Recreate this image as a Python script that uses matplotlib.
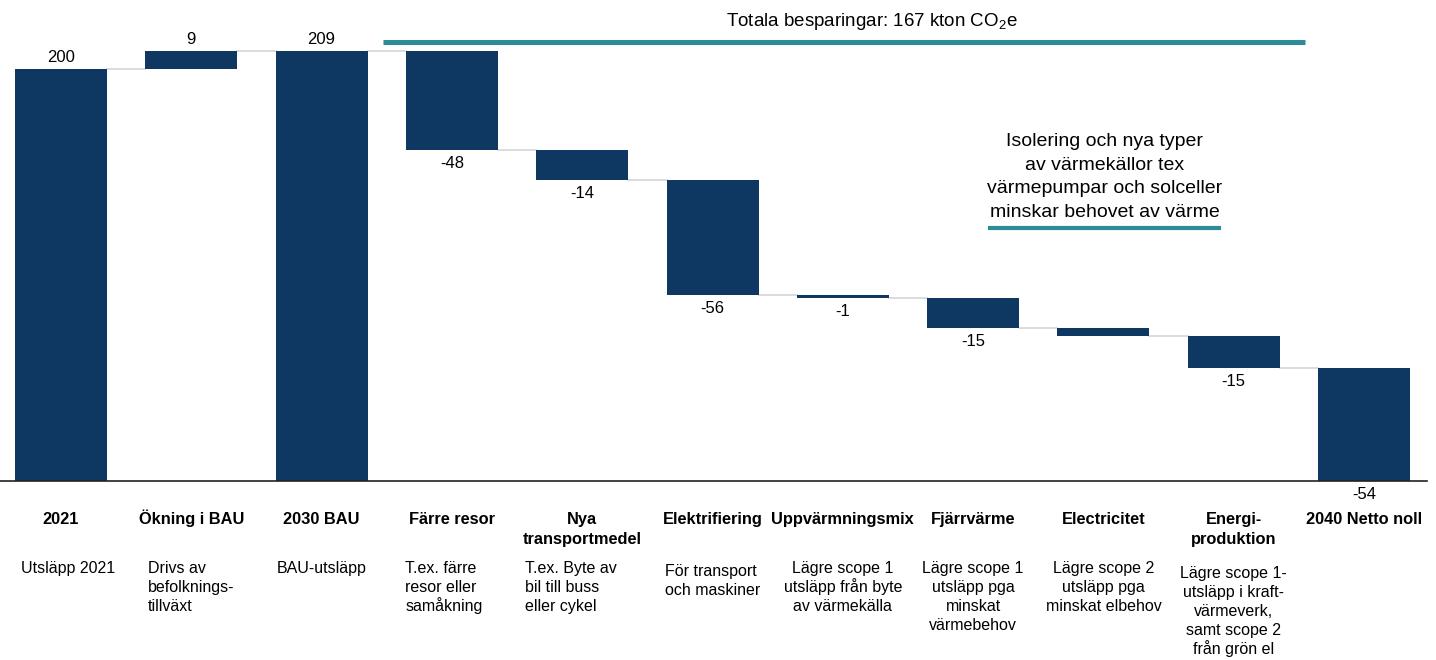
import matplotlib
matplotlib.use('Agg')
import matplotlib.pyplot as plt
import numpy as np

plt.rcParams['font.family'] = ['Liberation Sans', 'DejaVu Sans']
plt.rcParams['mathtext.fontset'] = 'custom'
plt.rcParams['mathtext.rm'] = 'Liberation Sans'

# data
categories = ['2021', 'Ökning i BAU', '2030 BAU', 'Färre resor', 'Nya\ntransportmedel',
              'Elektrifiering', 'Uppvärmningsmix', 'Fjärrvärme', 'Electricitet',
              'Energi-\nproduktion', '2040 Netto noll']
kinds = ['total', 'delta', 'total', 'delta', 'delta', 'delta', 'delta', 'delta',
         'delta', 'delta', 'total']
start_value = 200
deltas = [9, -48, -14.5, -56, -1.5, -14.5, -4, -15.5]
value_labels = ['200', '9', '209', '-48', '-14', '-56', '-1', '-15', '', '-15', '-54']
descriptions = [
    'Utsläpp 2021',
    'Drivs av\nbefolknings-\ntillväxt',
    'BAU-utsläpp',
    'T.ex. färre\nresor eller\nsamåkning',
    'T.ex. Byte av\nbil till buss\neller cykel',
    'För transport\noch maskiner',
    'Lägre scope 1\nutsläpp från byte\nav värmekälla',
    'Lägre scope 1\nutsläpp pga\nminskat\nvärmebehov',
    'Lägre scope 2\nutsläpp pga\nminskat elbehov',
    'Lägre scope 1-\nutsläpp i kraft-\nvärmeverk,\nsamt scope 2\nfrån grön el',
    '',
]
title_text = 'Totala besparingar: 167 kton CO$_\\mathregular{2}$e'
note_text = 'Isolering och nya typer\nav värmekällor tex\nvärmepumpar och solceller\nminskar behovet av värme'

NAVY = '#0e3761'
TEAL = '#2c8c99'
GREY = '#d9d9d9'

# layout in pixels
W, H = 1436, 660
X0, DX = 61, 130.3          # first bar centre and step in px
BASE, PPU = 481, 2.058      # baseline px and px per unit

fig = plt.figure(figsize=(W / 100, H / 100), dpi=100)
ax = fig.add_axes([0, 0, 1, 1])
ax.set_xlim(-X0 / DX, (W - X0) / DX)
ax.set_ylim(-(H - BASE) / PPU, BASE / PPU)
ax.axis('off')

def px_x(p):
    return (p - X0) / DX

def px_y(p):
    return (BASE - p) / PPU

width = 92 / DX

# build bars
bottoms, heights, levels = [], [], []
level = 0
di = 0
for k in kinds:
    if k == 'total':
        if not bottoms:
            level = start_value
        bottoms.append(0)
        heights.append(level)
    else:
        d = deltas[di]
        di += 1
        bottoms.append(min(level, level + d))
        heights.append(abs(d))
        level += d
    levels.append(level)

x = np.arange(len(categories))
ax.bar(x, heights, bottom=bottoms, width=width, color=NAVY, zorder=3)

# connectors
for i in range(len(x) - 1):
    ax.plot([x[i] + width / 2, x[i + 1] - width / 2], [levels[i], levels[i]],
            color=GREY, lw=1.3, zorder=2)

# baseline
ax.plot([px_x(0), px_x(1427)], [0, 0], color='#222222', lw=1.2, zorder=4)

# value labels
pu = 1 / PPU
for i, lab in enumerate(value_labels):
    if not lab:
        continue
    if lab.startswith('-'):
        ax.text(x[i], bottoms[i] - 6 * pu, lab, ha='center', va='top', fontsize=12)
    else:
        ax.text(x[i], bottoms[i] + heights[i] + 4 * pu, lab, ha='center', va='bottom', fontsize=12)

# category labels, one line at a time so accents don't shift them
for i, c in enumerate(categories):
    for j, line in enumerate(c.split('\n')):
        ax.text(x[i], px_y(524 + 20 * j), line, ha='center', va='baseline',
                fontsize=11.8, fontweight='bold')

# descriptions, line by line; left-aligned blocks share a left edge
renderer = fig.canvas.get_renderer()
left_aligned = {1, 3, 4, 5}
first_base = {5: 576, 9: 578}
x_shift = {0: 7, 3: -8, 4: -11}
for i, d in enumerate(descriptions):
    if not d:
        continue
    lines = d.split('\n')
    y0 = first_base.get(i, 573)
    cx = X0 + DX * i + x_shift.get(i, 0)
    if i in left_aligned:
        widths = []
        for line in lines:
            t = ax.text(0, 0, line, fontsize=11.5)
            widths.append(t.get_window_extent(renderer).width)
            t.remove()
        left_px = cx - max(widths) / 2
    for j, line in enumerate(lines):
        if i in left_aligned:
            ax.text(px_x(left_px), px_y(y0 + 19 * j), line, ha='left', va='baseline',
                    fontsize=11.5)
        else:
            ax.text(px_x(cx), px_y(y0 + 19 * j), line, ha='center', va='baseline',
                    fontsize=11.5)

# total savings line + title
ax.plot([px_x(383), px_x(1305)], [px_y(41.5), px_y(41.5)], color=TEAL, lw=3.6,
        solid_capstyle='butt')
ax.text(px_x(872), px_y(22), title_text, ha='center', va='center', fontsize=13.5)

# heating note
ax.text(px_x(1105), px_y(177), note_text, ha='center', va='center',
        fontsize=14, linespacing=1.5)
ax.plot([px_x(988), px_x(1221)], [px_y(228), px_y(228)], color=TEAL, lw=3,
        solid_capstyle='butt')

fig.savefig('out.png', dpi=100)
